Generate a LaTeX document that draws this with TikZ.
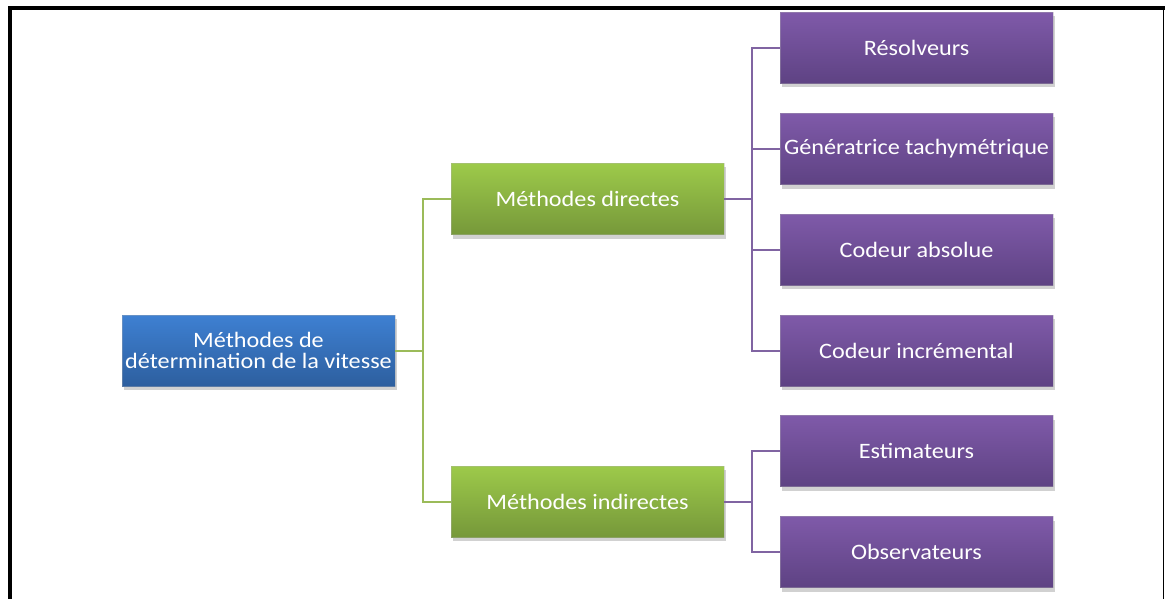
\documentclass[tikz,border=0pt]{standalone}
\usepackage{fontspec}
\setmainfont{Carlito}[FakeStretch=1.1]
\usetikzlibrary{shadows}
\definecolor{bluetop}{HTML}{3E80D2}
\definecolor{bluebot}{HTML}{2D5F9F}
\definecolor{greentop}{HTML}{9DCA4A}
\definecolor{greenbot}{HTML}{76983A}
\definecolor{purtop}{HTML}{7F5AA9}
\definecolor{purbot}{HTML}{5E4283}
\definecolor{greenline}{HTML}{9BBB59}
\definecolor{purline}{HTML}{8064A2}
\tikzset{
  box/.style={rectangle, minimum width=273pt, minimum height=71pt, inner sep=0pt,
    text=white, font=\fontsize{22}{21}\selectfont, align=center,
    draw=white!70!black, draw opacity=0.35, line width=0.6pt,
    drop shadow={shadow xshift=2pt, shadow yshift=-4pt, opacity=0.3, fill=black!60}},
  rootbox/.style={box, top color=bluetop, bottom color=bluebot},
  midbox/.style={box, top color=greentop, bottom color=greenbot},
  leafbox/.style={box, top color=purtop, bottom color=purbot},
  gconn/.style={draw=greenline, line width=2pt},
  pconn/.style={draw=purline, line width=2pt},
  frame/.style={draw=black, line width=4pt},
}
\begin{document}
\begin{tikzpicture}[x=1pt, y=-1pt]
\useasboundingbox (0,0) rectangle (1165,599);
% frame
\draw[frame] (10,599) -- (10,8) -- (1165,8);
\draw[draw=black, line width=1.5pt] (1163.5,8) -- (1163.5,599);
% nodes
\node[rootbox] (root) at (258.5,350.5) {Méthodes de\\détermination de la vitesse};
\node[midbox] (dir) at (587.5,199) {Méthodes directes};
\node[midbox] (ind) at (587.5,501.5) {Méthodes indirectes};
\node[leafbox] (l1) at (916.5,48) {Résolveurs};
\node[leafbox] (l2) at (916.5,149) {Génératrice tachymétrique};
\node[leafbox] (l3) at (916.5,249.5) {Codeur absolue};
\node[leafbox] (l4) at (916.5,350.5) {Codeur incrémental};
\node[leafbox] (l5) at (916.5,451) {Estimateurs};
\node[leafbox] (l6) at (916.5,552) {Observateurs};
% connectors
\coordinate (gj) at (423,350.5);
\coordinate (pj1) at (752,199);
\coordinate (pj2) at (752,501.5);
\draw[gconn] (root.east) -- (gj);
\draw[gconn] (gj) |- (dir.west);
\draw[gconn] (gj) |- (ind.west);
\draw[pconn] (dir.east) -- (pj1);
\foreach \n in {l1,l2,l3,l4} \draw[pconn] (pj1) |- (\n.west);
\draw[pconn] (ind.east) -- (pj2);
\foreach \n in {l5,l6} \draw[pconn] (pj2) |- (\n.west);
\end{tikzpicture}
\end{document}
